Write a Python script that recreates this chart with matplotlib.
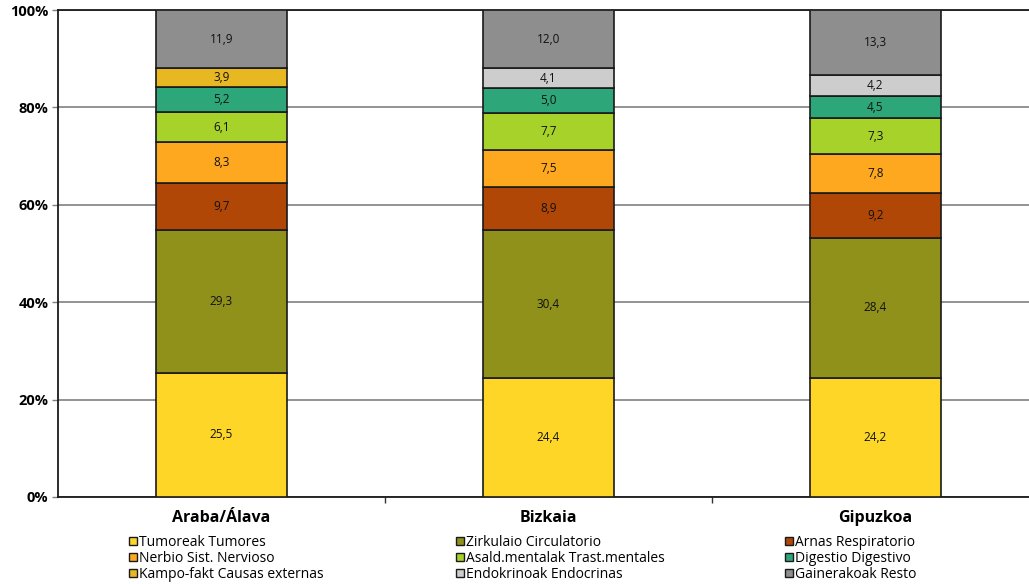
import numpy as np
import matplotlib.pyplot as plt
from matplotlib.patches import Patch

plt.rcParams['font.family'] = ['Open Sans', 'DejaVu Sans']

# Datuak
regions = ['Araba/Álava', 'Bizkaia', 'Gipuzkoa']
series = ['Tumoreak Tumores', 'Zirkulaio Circulatorio', 'Arnas Respiratorio',
          'Nerbio Sist. Nervioso', 'Asald.mentalak Trast.mentales', 'Digestio Digestivo',
          'Kampo-fakt Causas externas', 'Endokrinoak Endocrinas', 'Gainerakoak Resto']
tumores = [25.5, 24.4, 24.2]
circulatorio = [29.3, 30.4, 28.4]
respiratorio = [9.7, 8.9, 9.2]
nervioso = [8.3, 7.5, 7.8]
mentales = [6.1, 7.7, 7.3]
digestivo = [5.2, 5.0, 4.5]
externas = [3.9, 0.0, 0.0]
endocrinas = [0.0, 4.1, 4.2]
resto = [11.9, 12.0, 13.3]
colors = ['#FDD628', '#8F911A', '#B04707', '#FDA81E', '#A6D22A',
          '#2DA77A', '#E8B822', '#CDCDCD', '#8E8E8E']

data = np.array([tumores, circulatorio, respiratorio, nervioso, mentales,
                 digestivo, externas, endocrinas, resto])
pct = data / data.sum(axis=0) * 100

fig = plt.figure(figsize=(10.29, 5.84), dpi=100)
ax = fig.add_axes([58 / 1029, 87 / 584, 1 - 58 / 1029, 487 / 584])

x = np.arange(len(regions))
bottom = np.zeros(len(regions))
for i in range(len(series)):
    ax.bar(x, pct[i], 0.4, bottom=bottom, color=colors[i],
           edgecolor='#1a1a1a', linewidth=1.2, zorder=3)
    for j in range(len(regions)):
        if data[i, j] > 0:
            ax.text(x[j], bottom[j] + pct[i, j] / 2,
                    f'{data[i, j]:.1f}'.replace('.', ','),
                    ha='center', va='center', fontsize=8.5, color='#111111', zorder=4)
    bottom += pct[i]

ax.set_ylim(0, 100)
ax.set_xlim(-0.5, 2.47)
ax.set_yticks([0, 20, 40, 60, 80, 100])
ax.set_yticklabels(['0%', '20%', '40%', '60%', '80%', '100%'],
                   fontsize=10.5, fontweight='bold')
ax.yaxis.grid(True, color='#808080', linewidth=1.2, zorder=0)
ax.tick_params(axis='y', length=4, width=1, color='#808080', pad=3)

ax.set_xticks([0.5, 1.5], minor=True)
ax.set_xticks(x)
ax.set_xticklabels(regions, fontsize=11.5, fontweight='bold')
ax.tick_params(axis='x', which='major', length=0, pad=9)
ax.tick_params(axis='x', which='minor', length=4, width=1, color='#333333')

ax.spines['right'].set_visible(False)
for s in ['top', 'left', 'bottom']:
    ax.spines[s].set_color('#1a1a1a')
    ax.spines[s].set_linewidth(1.3)

# Legenda: hiru zutabe
handles = [Patch(facecolor=c, edgecolor='#1a1a1a', linewidth=1) for c in colors]
col_x = [129, 456, 785]
for k in range(3):
    idx = [k, k + 3, k + 6]
    fig.legend([handles[i] for i in idx], [series[i] for i in idx],
               loc='upper left', bbox_to_anchor=(col_x[k] / 1029, 1 - 535 / 584),
               frameon=False, fontsize=10, handlelength=0.55, handleheight=0.55,
               handletextpad=0.2, labelspacing=0.08, borderpad=0, borderaxespad=0)

fig.savefig('out.png', dpi=100)
